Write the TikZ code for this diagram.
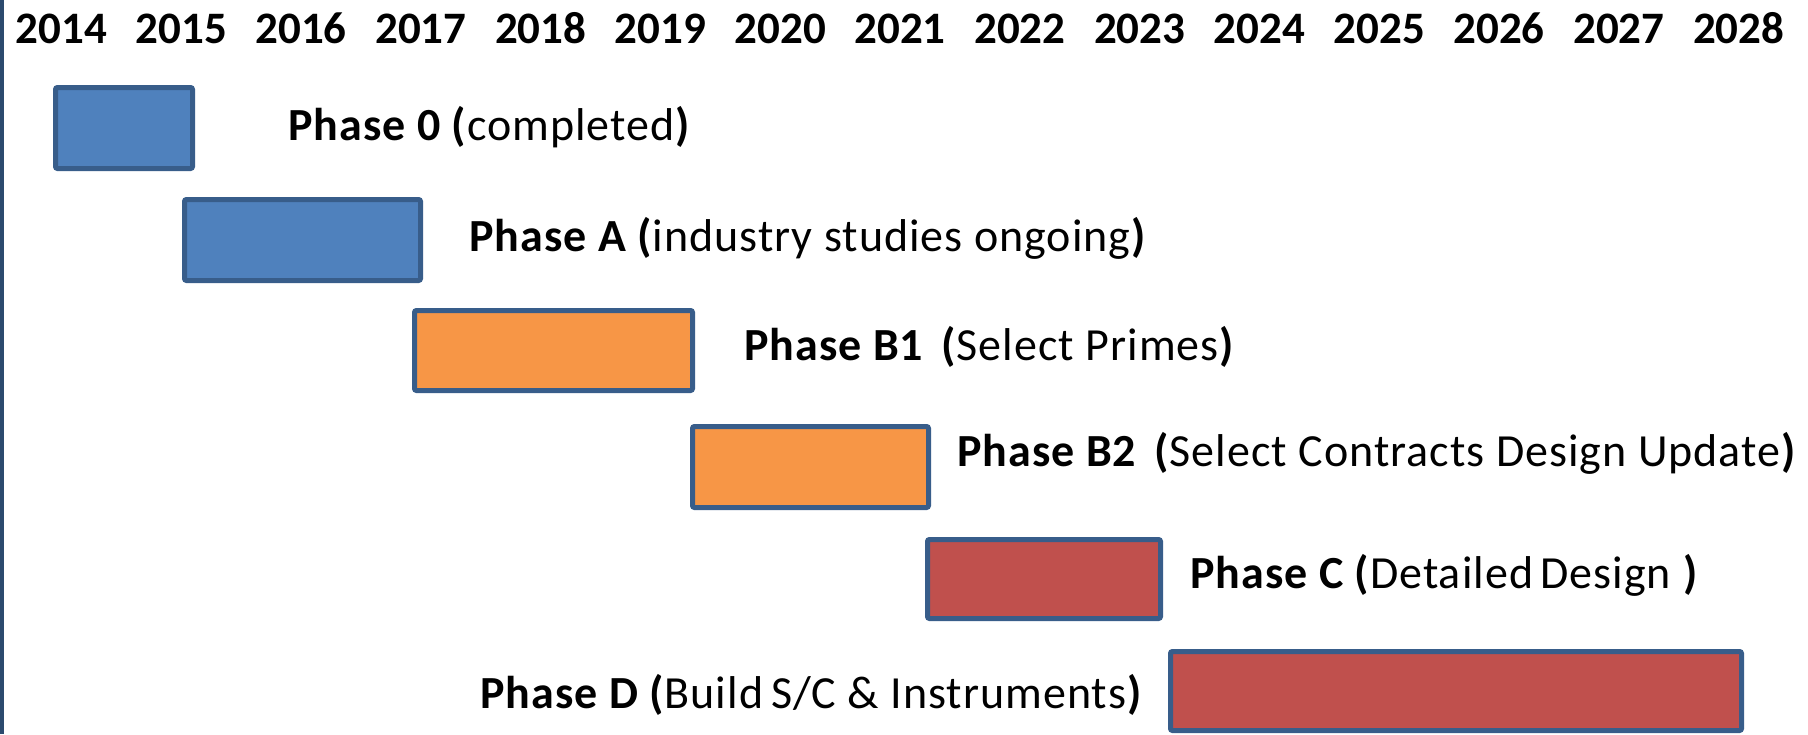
\documentclass[tikz,border=0pt]{standalone}
\usepackage{fontspec}
\setmainfont{Carlito}
\newfontfamily\lblfont[LetterSpace=2.2]{Carlito}
\definecolor{edgeblue}{HTML}{385D8A}
\definecolor{fillblue}{HTML}{4F81BD}
\definecolor{fillorange}{HTML}{F79646}
\definecolor{fillred}{HTML}{C0504D}
\definecolor{leftbar}{HTML}{2C4A6E}
\begin{document}
\begin{tikzpicture}[x=1pt,y=-1pt,
  phasebox/.style={draw=edgeblue, line width=5pt, rounded corners=2pt, inner sep=0pt, rectangle},
  yearlbl/.style={font=\fontsize{45}{54}\selectfont\bfseries, inner sep=0pt, anchor=base},
  phaselbl/.style={font=\lblfont\fontsize{46}{55}\selectfont, inner sep=0pt, anchor=base west}]
\useasboundingbox (0,0) rectangle (1808,734);
\fill[white] (0,0) rectangle (1808,734);
\fill[leftbar] (0,0) rectangle (3.5,734);
% years
\foreach \i [count=\k from 0] in {2014,...,2028}{
  \node[yearlbl] (y\i) at ({61.5+119.8*\k},43) {\i};
}
% boxes
\node[phasebox, fill=fillblue, minimum width=137pt, minimum height=81pt] (b0) at (124,128) {};
\node[phasebox, fill=fillblue, minimum width=236pt, minimum height=81pt] (bA) at (302.5,240) {};
\node[phasebox, fill=fillorange, minimum width=278pt, minimum height=80pt] (bB1) at (553.5,350.5) {};
\node[phasebox, fill=fillorange, minimum width=236pt, minimum height=81pt] (bB2) at (810.5,467) {};
\node[phasebox, fill=fillred, minimum width=233pt, minimum height=79pt] (bC) at (1044,579) {};
\node[phasebox, fill=fillred, minimum width=571pt, minimum height=79pt] (bD) at (1456,691) {};
% labels
\node[phaselbl] (l0) at (288,140) {\textbf{Phase 0 (}completed\textbf{)}};
\node[phaselbl] (lA) at (469,251) {\textbf{Phase A (}industry studies ongoing\textbf{)}};
\node[phaselbl] (lB1) at (744,360) {\textbf{Phase B1\hspace{0.4em}(}Select Primes\textbf{)}};
\node[phaselbl] (lB2) at (957,466) {\textbf{Phase B2\hspace{0.4em}(}Select Contracts Design Update\textbf{)}};
\node[phaselbl] (lC) at (1190,588) {\textbf{Phase C (}Detailed\hspace{0.16em}Design \textbf{)}};
\node[phaselbl] (lD) at (480,708) {\textbf{Phase D (}Build\hspace{0.17em}S/C \& Instruments\textbf{)}};
\end{tikzpicture}
\end{document}
